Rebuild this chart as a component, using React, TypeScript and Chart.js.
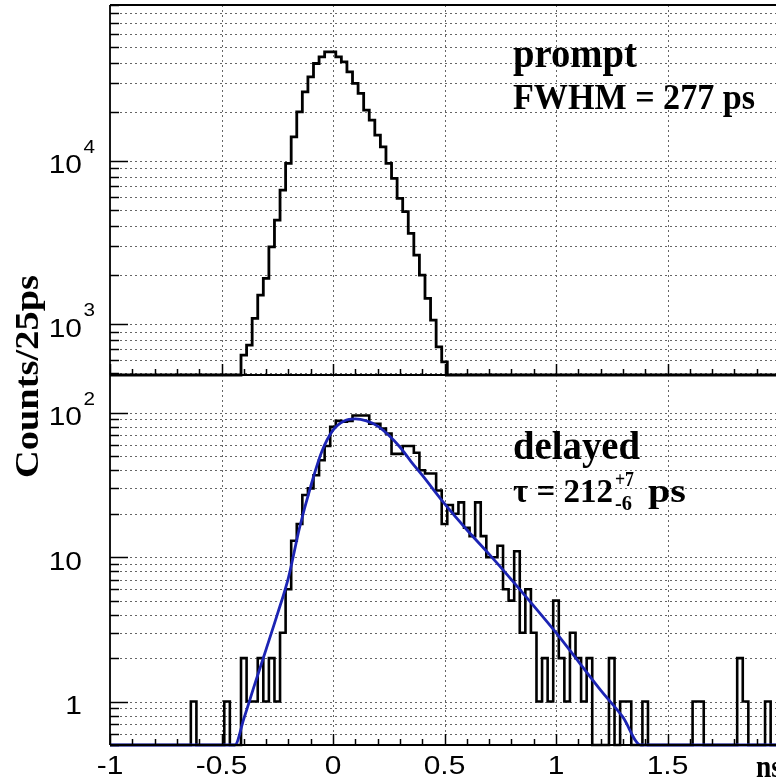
import React, { useEffect, useRef } from "react";
import { Chart, registerables } from "chart.js";

Chart.register(...registerables);

// ---------------- data ----------------
const BIN_WIDTH = 0.025; // ns (25 ps bins, centred on multiples of 25 ps)
const X_MIN = -1;
const X_MAX = 2;

// prompt spectrum: counts per bin, first bin centred at promptFirstCenter
const promptFirstCenter = -0.4;
const promptCounts = [
  646, 744, 1084, 1505, 1905, 2972, 4335, 6610, 9640, 14020, 19960, 26470, 32700, 39450, 43330,
  46490, 46490,
  43330, 40370, 35080, 29780, 25850, 20430, 17740, 14360, 12180, 9640, 7800, 5890, 4880, 3593,
  2645, 1995, 1436, 1058, 726, 587,
];

// delayed spectrum: counts per bin, first bin centred at delayedFirstCenter
const delayedFirstCenter = -0.65;
const delayedCounts = [
  0, 1, 0, 0, 0, 0, 0, 1, 0, 0, // -0.650 .. -0.425
  2, 1, 1, 2, 1, 2, 1, 3, 6, 13, // -0.400 .. -0.175
  17, 27, 30, 37, 47, 59, 80, 88, 87, 88, // -0.150 .. 0.075
  96, 96, 96, 84, 84, 78, 72, 52, 52, 59, // 0.100 .. 0.325
  59, 53, 40, 38, 38, 29, 17, 23, 20, 24, // 0.350 .. 0.575
  16, 14, 24, 14, 10, 10, 12, 6, 5, 11, // 0.600 .. 0.825
  3, 6, 3, 1, 2, 1, 5, 2, 1, 3, // 0.850 .. 1.075
  2, 1, 2, 0, 0, 0, 2, 0, 1, 1, // 1.100 .. 1.325
  0, 0, 1, 0, 0, 0, 0, 0, 0, 0, // 1.350 .. 1.575
  0, 1, 1, 0, 0, 0, 0, 0, 0, 2, // 1.600 .. 1.825
  1, 0, 0, 0, 1, 0, 0, // 1.850 .. 2.000
];

// fitted lifetime curve
const fitX = [-1.0, -0.44, -0.4, -0.35, -0.3, -0.25, -0.2, -0.15, -0.1, -0.05, 0.0, 0.05, 0.1, 0.15,
  0.2, 0.25, 0.3, 0.35, 0.4, 0.5, 0.6, 0.7, 0.8, 0.9, 1.0, 1.1, 1.2, 1.3, 1.38, 2.0];
const fitY = [0.5, 0.5, 0.76, 1.33, 2.3, 4.0, 7.2, 16, 31, 54, 76, 88, 91, 88,
  81, 70, 58, 46, 37, 23.5, 15.5, 10.5, 7.0, 4.6, 3.0, 1.9, 1.2, 0.78, 0.5, 0.5];

// axis ranges and tick labels
const topYRange = [488, 90000];
const bottomYRange = [0.5, 183];
const topYTickValues = [1000, 10000];
const topYTickBases = ["10", "10"];
const topYTickExps = ["3", "4"];
const bottomYTickValues = [1, 10, 100];
const bottomYTickBases = ["1", "10", "10"];
const bottomYTickExps = ["", "", "2"];
const xTickValues = [-1, -0.5, 0, 0.5, 1, 1.5];
const xTickLabels = ["-1", "-0.5", "0", "0.5", "1", "1.5"];
const xGridValues = [-0.5, 0, 0.5, 1, 1.5];

// ---------------- styling ----------------
const SANS = '"Liberation Sans", Arial, Helvetica, sans-serif';
const SERIF = '"Liberation Serif", "Times New Roman", serif';
const GRID_COLOR = "#666666";
const FIT_COLOR = "#1c24b4";
const SANS_SX = 1.15;
const CANVAS_W = 790;
const CANVAS_H = 780;

function histogramPoints(firstCenter: number, counts: number[], floor: number) {
  const pts: { x: number; y: number }[] = [];
  const nBins = Math.round((X_MAX - X_MIN) / BIN_WIDTH) + 1;
  for (let i = 0; i < nBins; i++) {
    const c = X_MIN + i * BIN_WIDTH;
    const k = Math.round((c - firstCenter) / BIN_WIDTH);
    const v = k >= 0 && k < counts.length ? counts[k] : 0;
    const yv = Math.max(v, floor);
    pts.push({ x: c - BIN_WIDTH / 2, y: yv }, { x: c + BIN_WIDTH / 2, y: yv });
  }
  return pts;
}

function logTicks(min: number, max: number) {
  const out: { v: number; major: boolean }[] = [];
  for (let e = Math.floor(Math.log10(min)); e <= Math.ceil(Math.log10(max)); e++) {
    for (let m = 1; m <= 9; m++) {
      const v = m * Math.pow(10, e);
      if (v >= min * 0.999 && v <= max * 1.001) out.push({ v, major: m === 1 });
    }
  }
  return out;
}

function drawStretched(
  ctx: CanvasRenderingContext2D,
  text: string,
  x: number,
  baseline: number,
  font: string,
  align: "left" | "right" | "center",
  sx: number
) {
  ctx.save();
  ctx.font = font;
  ctx.textBaseline = "alphabetic";
  ctx.textAlign = "left";
  const w = ctx.measureText(text).width * sx;
  let left = x;
  if (align === "right") left = x - w;
  else if (align === "center") left = x - w / 2;
  ctx.translate(left, baseline);
  ctx.scale(sx, 1);
  ctx.fillStyle = "#000";
  ctx.fillText(text, 0, 0);
  ctx.restore();
}

function drawFitted(
  ctx: CanvasRenderingContext2D,
  text: string,
  left: number,
  baseline: number,
  font: string,
  width: number
) {
  ctx.save();
  ctx.font = font;
  ctx.textBaseline = "alphabetic";
  ctx.textAlign = "left";
  const m = ctx.measureText(text).width;
  ctx.translate(left, baseline);
  ctx.scale(width / m, 1);
  ctx.fillStyle = "#000";
  ctx.fillText(text, 0, 0);
  ctx.restore();
}

type PanelSpec = {
  id: string;
  yMin: number;
  yMax: number;
  yTickValues: number[];
  yTickBases: string[];
  yTickExps: string[];
  showXLabels: boolean;
  drawTopLine: boolean;
  extras: (ctx: CanvasRenderingContext2D) => void;
};

function panelPlugin(spec: PanelSpec) {
  return {
    id: spec.id,
    beforeDatasetsDraw(chart: any) {
      const { ctx, chartArea: a, scales } = chart;
      const x = scales.x;
      const y = scales.y;
      ctx.save();
      ctx.beginPath();
      ctx.rect(a.left, a.top, a.right - a.left, a.bottom - a.top);
      ctx.clip();
      ctx.strokeStyle = GRID_COLOR;
      ctx.lineWidth = 1;
      ctx.setLineDash([2, 3]);
      for (const xv of xGridValues) {
        const px = Math.round(x.getPixelForValue(xv)) + 0.5;
        ctx.beginPath();
        ctx.moveTo(px, a.top);
        ctx.lineTo(px, a.bottom);
        ctx.stroke();
      }
      for (const t of logTicks(spec.yMin, spec.yMax)) {
        const py = Math.round(y.getPixelForValue(t.v)) + 0.5;
        ctx.beginPath();
        ctx.moveTo(a.left, py);
        ctx.lineTo(a.right, py);
        ctx.stroke();
      }
      ctx.restore();
    },
    afterDatasetsDraw(chart: any) {
      const { ctx, chartArea: a, scales } = chart;
      const x = scales.x;
      const y = scales.y;
      ctx.save();
      ctx.setLineDash([]);
      ctx.strokeStyle = "#000";
      // frame
      ctx.lineWidth = 1.8;
      ctx.beginPath();
      ctx.moveTo(a.left, a.top);
      ctx.lineTo(a.left, a.bottom);
      ctx.moveTo(a.left, a.bottom);
      ctx.lineTo(a.right, a.bottom);
      if (spec.drawTopLine) {
        ctx.moveTo(a.left, a.top);
        ctx.lineTo(a.right, a.top);
      }
      ctx.stroke();
      // y ticks (log)
      ctx.lineWidth = 1.5;
      for (const t of logTicks(spec.yMin, spec.yMax)) {
        const py = Math.round(y.getPixelForValue(t.v)) + 0.5;
        const len = t.major ? 18 : 9;
        ctx.beginPath();
        ctx.moveTo(a.left, py);
        ctx.lineTo(a.left + len, py);
        ctx.stroke();
      }
      // x ticks
      for (let i = -10; i <= 20; i++) {
        const v = i / 10;
        const px = Math.round(x.getPixelForValue(v)) + 0.5;
        const len = i % 5 === 0 ? 11 : 6;
        ctx.beginPath();
        ctx.moveTo(px, a.bottom);
        ctx.lineTo(px, a.bottom - len);
        ctx.stroke();
      }
      // y labels
      spec.yTickValues.forEach((v, i) => {
        const py = y.getPixelForValue(v);
        drawStretched(ctx, spec.yTickBases[i], 82, py + 12.5, `26px ${SANS}`, "right", SANS_SX);
        if (spec.yTickExps[i]) {
          drawStretched(ctx, spec.yTickExps[i], 83.5, py - 8, `18px ${SANS}`, "left", SANS_SX);
        }
      });
      // x labels
      if (spec.showXLabels) {
        xTickValues.forEach((v, i) => {
          const px = x.getPixelForValue(v);
          drawStretched(ctx, xTickLabels[i], px, 774, `26px ${SANS}`, "center", SANS_SX);
        });
      }
      spec.extras(ctx);
      ctx.restore();
    },
  };
}

function makeConfig(
  padding: { left: number; right: number; top: number; bottom: number },
  yRange: number[],
  datasets: any[],
  plugin: any
) {
  return {
    type: "line" as const,
    data: { datasets },
    options: {
      responsive: false,
      animation: false as const,
      devicePixelRatio: 1,
      layout: { padding },
      scales: {
        x: { type: "linear" as const, min: X_MIN, max: X_MAX, display: false },
        y: { type: "logarithmic" as const, min: yRange[0], max: yRange[1], display: false },
      },
      elements: { point: { radius: 0, hoverRadius: 0 } },
      plugins: { legend: { display: false }, tooltip: { enabled: false } },
      events: [],
    },
    plugins: [plugin],
  };
}

export default function App() {
  const topRef = useRef<HTMLCanvasElement>(null);
  const botRef = useRef<HTMLCanvasElement>(null);

  useEffect(() => {
    const clip = { left: 0, right: 0, top: 3, bottom: 3 };

    const topPlugin = panelPlugin({
      id: "topPanel",
      yMin: topYRange[0],
      yMax: topYRange[1],
      yTickValues: topYTickValues,
      yTickBases: topYTickBases,
      yTickExps: topYTickExps,
      showXLabels: false,
      drawTopLine: true,
      extras: (ctx) => {
        drawFitted(ctx, "prompt", 513, 67, `bold 39px ${SERIF}`, 124);
        drawFitted(ctx, "FWHM = 277 ps", 513, 109, `bold 36px ${SERIF}`, 242);
      },
    });

    const botPlugin = panelPlugin({
      id: "bottomPanel",
      yMin: bottomYRange[0],
      yMax: bottomYRange[1],
      yTickValues: bottomYTickValues,
      yTickBases: bottomYTickBases,
      yTickExps: bottomYTickExps,
      showXLabels: true,
      drawTopLine: true,
      extras: (ctx) => {
        drawFitted(ctx, "delayed", 513, 459, `bold 39px ${SERIF}`, 127);
        drawFitted(ctx, "\u03c4 = 212", 513, 502, `bold 33px ${SERIF}`, 100);
        drawFitted(ctx, "+7", 615, 486, `bold 20px ${SERIF}`, 19);
        drawFitted(ctx, "-6", 615, 510, `bold 21px ${SERIF}`, 17);
        drawFitted(ctx, "ps", 648, 502, `bold 33px ${SERIF}`, 38);
        drawFitted(ctx, "ns", 756, 777, `bold 31px ${SERIF}`, 26);
        // y-axis title
        ctx.save();
        ctx.font = `bold 33px ${SERIF}`;
        const title = "Counts/25ps";
        const m = ctx.measureText(title).width;
        ctx.translate(38, 478);
        ctx.rotate(-Math.PI / 2);
        ctx.scale(203 / m, 1);
        ctx.fillStyle = "#000";
        ctx.textAlign = "left";
        ctx.textBaseline = "alphabetic";
        ctx.fillText(title, 0, 0);
        ctx.restore();
      },
    });

    const topChart = new Chart(
      topRef.current as HTMLCanvasElement,
      makeConfig(
        { left: 110, right: CANVAS_W - 779, top: 5, bottom: CANVAS_H - 375 },
        topYRange,
        [
          {
            data: histogramPoints(promptFirstCenter, promptCounts, topYRange[0]),
            borderColor: "#000",
            borderWidth: 2.8,
            borderJoinStyle: "miter",
            borderCapStyle: "butt",
            fill: false,
            tension: 0,
            clip,
          },
        ],
        topPlugin
      ) as any
    );

    const bottomChart = new Chart(
      botRef.current as HTMLCanvasElement,
      makeConfig(
        { left: 110, right: CANVAS_W - 779, top: 375, bottom: CANVAS_H - 745 },
        bottomYRange,
        [
          {
            data: fitX.map((xv, i) => ({ x: xv, y: Math.max(fitY[i], bottomYRange[0]) })),
            borderColor: FIT_COLOR,
            borderWidth: 2.8,
            fill: false,
            cubicInterpolationMode: "monotone",
            clip,
          },
          {
            data: histogramPoints(delayedFirstCenter, delayedCounts, bottomYRange[0]),
            borderColor: "#000",
            borderWidth: 2.6,
            borderJoinStyle: "miter",
            borderCapStyle: "butt",
            fill: false,
            tension: 0,
            clip,
          },
        ],
        botPlugin
      ) as any
    );

    return () => {
      topChart.destroy();
      bottomChart.destroy();
    };
  }, []);

  const canvasStyle: React.CSSProperties = {
    position: "absolute",
    left: 0,
    top: 0,
    width: CANVAS_W,
    height: CANVAS_H,
  };

  return (
    <div
      style={{
        position: "absolute",
        left: 0,
        top: 0,
        width: 776,
        height: 780,
        overflow: "hidden",
        background: "#fff",
      }}
    >
      <canvas ref={topRef} width={CANVAS_W} height={CANVAS_H} style={canvasStyle} />
      <canvas ref={botRef} width={CANVAS_W} height={CANVAS_H} style={canvasStyle} />
    </div>
  );
}
